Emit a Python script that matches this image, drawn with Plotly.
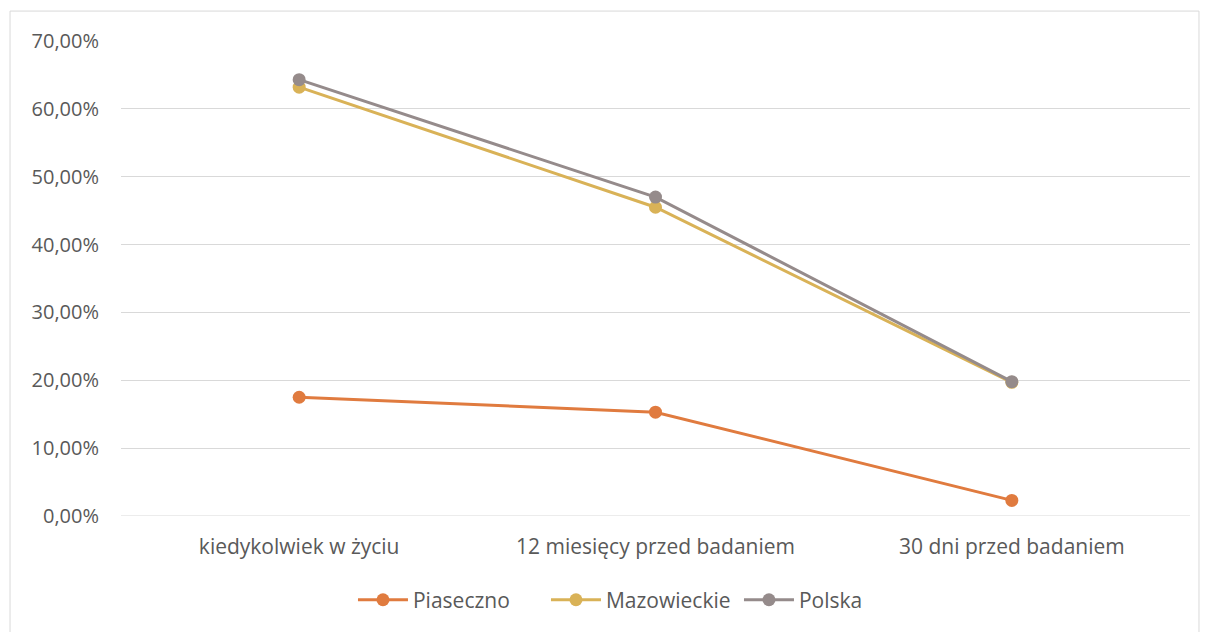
import plotly.graph_objects as go

categories = ["kiedykolwiek w życiu", "12 miesięcy przed badaniem", "30 dni przed badaniem"]
piaseczno = [0.175, 0.153, 0.023]
mazowieckie = [0.632, 0.455, 0.197]
polska = [0.643, 0.470, 0.198]
y_ticks = [0, 0.1, 0.2, 0.3, 0.4, 0.5, 0.6, 0.7]
y_tick_labels = ["0,00%", "10,00%", "20,00%", "30,00%", "40,00%", "50,00%", "60,00%", "70,00%"]

series = [
    ("Piaseczno", piaseczno, "#E07B3F"),
    ("Mazowieckie", mazowieckie, "#D9B257"),
    ("Polska", polska, "#958B8B"),
]

fig = go.Figure()
for name, vals, color in series:
    fig.add_trace(go.Scatter(
        x=categories, y=vals, name=name, mode="lines+markers",
        line=dict(color=color, width=3),
        marker=dict(color=color, size=13),
    ))

font_family = "'Open Sans', 'Liberation Sans', sans-serif"
fig.update_layout(
    width=1200, height=624,
    paper_bgcolor="white", plot_bgcolor="white",
    margin=dict(l=113, r=18, t=33, b=116),
    font=dict(family=font_family, size=20, color="#595959"),
    showlegend=True,
    legend=dict(orientation="h", x=0.217, xanchor="left", y=-0.177, yanchor="middle",
                font=dict(size=21, color="#595959"), traceorder="normal",
                itemwidth=50, entrywidth=128, entrywidthmode="pixels"),
    xaxis=dict(type="category", range=[-0.5, 2.5], showgrid=False, zeroline=False,
               showline=False, ticks="", tickfont=dict(size=21, color="#595959"), ticklabelstandoff=16),
    yaxis=dict(range=[0, 0.7], tickvals=y_ticks, ticktext=y_tick_labels,
               showgrid=True, gridcolor="#D9D9D9", gridwidth=1, zeroline=False,
               showline=False, ticks="", tickfont=dict(size=20, color="#595959"), ticklabelstandoff=21),
    shapes=[dict(type="rect", xref="paper", yref="paper", x0=-0.1038, x1=1.0084, y0=-0.27, y1=1.063,
                 line=dict(color="#D9D9D9", width=1), fillcolor="rgba(0,0,0,0)", layer="below"),
            dict(type="line", xref="paper", yref="y", x0=0, x1=1, y0=0, y1=0,
                 line=dict(color="#D9D9D9", width=1), layer="below")],
)

fig.write_html("out.html")
